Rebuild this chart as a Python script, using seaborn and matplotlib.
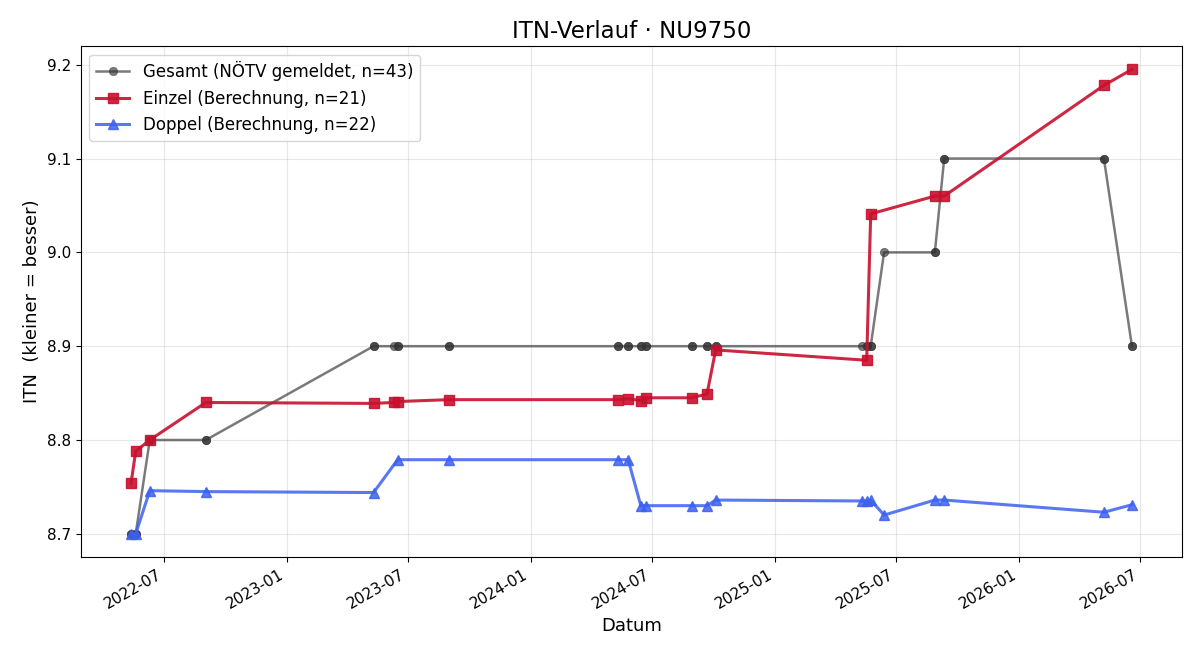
import pandas as pd
import matplotlib
matplotlib.use("Agg")
import matplotlib.pyplot as plt
import matplotlib.dates as mdates
import seaborn as sns

# ---- data ----
einzel_dates = ["2022-05-13", "2022-05-20", "2022-06-10", "2022-09-02", "2023-05-11",
                "2023-06-10", "2023-06-16", "2023-09-01", "2024-05-11", "2024-05-26",
                "2024-06-14", "2024-06-22", "2024-08-29", "2024-09-21", "2024-10-04",
                "2025-05-18", "2025-05-24", "2025-08-28", "2025-09-11", "2026-05-08",
                "2026-06-19"]
einzel_values = [8.754, 8.788, 8.800, 8.840, 8.839, 8.840, 8.841, 8.843, 8.843, 8.844,
                 8.842, 8.845, 8.845, 8.849, 8.896, 8.885, 9.041, 9.060, 9.060, 9.178,
                 9.195]

doppel_dates = ["2022-05-13", "2022-05-20", "2022-06-10", "2022-09-02", "2023-05-11",
                "2023-06-16", "2023-09-01", "2024-05-11", "2024-05-26", "2024-06-14",
                "2024-06-22", "2024-08-29", "2024-09-21", "2024-10-04", "2025-05-11",
                "2025-05-18", "2025-05-24", "2025-06-13", "2025-08-28", "2025-09-11",
                "2026-05-08", "2026-06-19"]
doppel_values = [8.700, 8.700, 8.746, 8.745, 8.744, 8.779, 8.779, 8.779, 8.779, 8.730,
                 8.730, 8.730, 8.730, 8.736, 8.735, 8.735, 8.736, 8.720, 8.736, 8.736,
                 8.723, 8.731]

# Gesamt: reported value per date (one entry per match -> n=43)
gesamt_by_date = {
    "2022-05-13": 8.7, "2022-05-20": 8.7, "2022-06-10": 8.8, "2022-09-02": 8.8,
    "2023-05-11": 8.9, "2023-06-10": 8.9, "2023-06-16": 8.9, "2023-09-01": 8.9,
    "2024-05-11": 8.9, "2024-05-26": 8.9, "2024-06-14": 8.9, "2024-06-22": 8.9,
    "2024-08-29": 8.9, "2024-09-21": 8.9, "2024-10-04": 8.9, "2025-05-11": 8.9,
    "2025-05-18": 8.9, "2025-05-24": 8.9, "2025-06-13": 9.0, "2025-08-28": 9.0,
    "2025-09-11": 9.1, "2026-05-08": 9.1, "2026-06-19": 8.9,
}
gesamt_dates = sorted(einzel_dates + doppel_dates)
gesamt_values = [gesamt_by_date[d] for d in gesamt_dates]

labels = ["Gesamt (NÖTV gemeldet, n=43)", "Einzel (Berechnung, n=21)",
          "Doppel (Berechnung, n=22)"]

df_g = pd.DataFrame({"Datum": pd.to_datetime(gesamt_dates), "ITN": gesamt_values})
df_e = pd.DataFrame({"Datum": pd.to_datetime(einzel_dates), "ITN": einzel_values})
df_d = pd.DataFrame({"Datum": pd.to_datetime(doppel_dates), "ITN": doppel_values})

fig, ax = plt.subplots(figsize=(12, 6.6), dpi=100)

sns.lineplot(data=df_g, x="Datum", y="ITN", ax=ax, estimator=None, sort=False,
             color="#333333", alpha=0.65, linewidth=1.8, marker="o", markersize=6,
             markeredgewidth=0.5, markeredgecolor="#333333", label=labels[0])
sns.lineplot(data=df_e, x="Datum", y="ITN", ax=ax, estimator=None, sort=False,
             color="#C8102E", alpha=0.9, linewidth=2.2, marker="s", markersize=7,
             markeredgewidth=1.0, markeredgecolor="#C8102E", label=labels[1])
sns.lineplot(data=df_d, x="Datum", y="ITN", ax=ax, estimator=None, sort=False,
             color="#3C60F0", alpha=0.85, linewidth=2.2, marker="^", markersize=7,
             markeredgewidth=1.0, markeredgecolor="#3C60F0", label=labels[2])

ax.set_title("ITN-Verlauf · NU9750", fontsize=16.5)
ax.set_xlabel("Datum", fontsize=13)
ax.set_ylabel("ITN  (kleiner = besser)", fontsize=13)
ax.xaxis.set_major_locator(mdates.MonthLocator(bymonth=[1, 7]))
ax.xaxis.set_major_formatter(mdates.DateFormatter("%Y-%m"))
ax.tick_params(labelsize=11)
ax.grid(True, alpha=0.3)
ax.legend(loc="upper left", fontsize=12)
fig.autofmt_xdate(rotation=30, ha="right")
fig.subplots_adjust(left=0.0675, right=0.985, top=0.930, bottom=0.156)
fig.savefig("out.png", dpi=100)
